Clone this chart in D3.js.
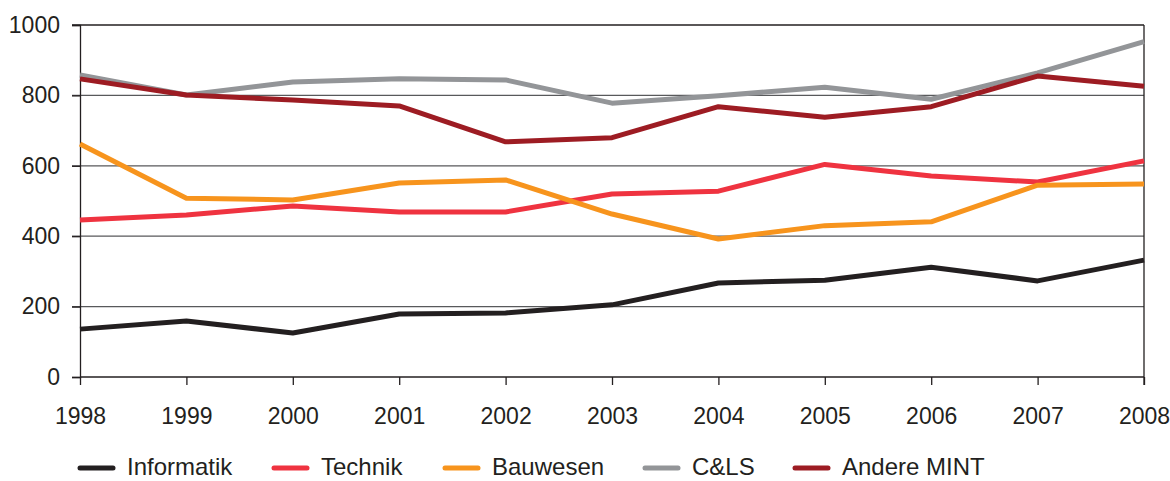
<!DOCTYPE html>
<html><head><meta charset="utf-8">
<script src="https://cdn.jsdelivr.net/npm/d3@7"></script>
<style>body{margin:0;background:#fff}text{font-family:"Liberation Sans",Arial,sans-serif}</style>
</head><body><svg id="c" width="1170" height="481"></svg>
<script>
const years = [1998,1999,2000,2001,2002,2003,2004,2005,2006,2007,2008];
const yTicks = [0,200,400,600,800,1000];
const seriesNames = ["Informatik","Technik","Bauwesen","C&LS","Andere MINT"];
const seriesColors = ["#231f20","#ef3340","#f7941d","#939598","#9d1c23"];
const informatik = [136,159,125,179,182,205,267,275,312,273,332];
const technik = [446,460,486,469,469,520,528,604,571,554,614];
const bauwesen = [662,508,503,551,560,463,392,430,441,545,548];
const cls = [858,801,838,847,844,778,799,823,789,864,953];
const andereMint = [847,801,787,770,668,680,768,738,768,855,826];
const allSeries = [informatik,technik,bauwesen,cls,andereMint];

const svg = d3.select("#c");
const L=80,R=1144,T=25,B=377;
const FS=23;
const x = d3.scalePoint().domain(years).range([L,R]);
const y = d3.scaleLinear().domain([0,1000]).range([B,T]);

svg.append("g").selectAll("line").data(yTicks.filter(d=>d>0)).join("line")
  .attr("x1",L-8).attr("x2",R).attr("y1",d=>y(d)).attr("y2",d=>y(d))
  .attr("stroke",d=>d===1000?"#231f20":"#58595b").attr("stroke-width",1.3);
svg.append("line").attr("x1",R).attr("x2",R).attr("y1",T).attr("y2",B+8).attr("stroke","#231f20").attr("stroke-width",1.3);

const yAxis = svg.append("g").attr("transform",`translate(${L},0)`)
  .call(d3.axisLeft(y).tickValues(yTicks).tickSize(8).tickPadding(12).tickFormat(d3.format("d")));
yAxis.select(".domain").attr("stroke","#231f20").attr("stroke-width",1.3);
yAxis.selectAll(".tick line").attr("stroke","#231f20").attr("stroke-width",1.3);
yAxis.selectAll("text").attr("font-size",FS).attr("fill","#231f20").attr("font-family","Liberation Sans, Arial, sans-serif");

const xAxis = svg.append("g").attr("transform",`translate(0,${B})`)
  .call(d3.axisBottom(x).tickSize(8).tickPadding(24).tickFormat(d3.format("d")));
xAxis.select(".domain").attr("stroke","#231f20").attr("stroke-width",1.3).attr("d",`M${L},0H${R}`);
xAxis.selectAll(".tick line").attr("stroke","#231f20").attr("stroke-width",1.3);
xAxis.selectAll("text").attr("font-size",FS).attr("fill","#231f20").attr("y",47).attr("dy",0)
  .attr("font-family","Liberation Sans, Arial, sans-serif");

const line = d3.line().x((d,i)=>x(years[i])).y(d=>y(d));
allSeries.forEach((s,k)=>{
  svg.append("path").attr("d",line(s)).attr("fill","none")
    .attr("stroke",seriesColors[k]).attr("stroke-width",5).attr("stroke-linejoin","round");
});

const legX = [78,272,443,643,793];
const lg = svg.append("g");
seriesNames.forEach((n,k)=>{
  lg.append("line").attr("x1",legX[k]+2).attr("x2",legX[k]+35).attr("y1",468).attr("y2",468)
    .attr("stroke",seriesColors[k]).attr("stroke-width",5).attr("stroke-linecap","round");
  lg.append("text").attr("x",legX[k]+49).attr("y",475).attr("font-size",24).attr("fill","#231f20").text(n);
});
</script></body></html>
